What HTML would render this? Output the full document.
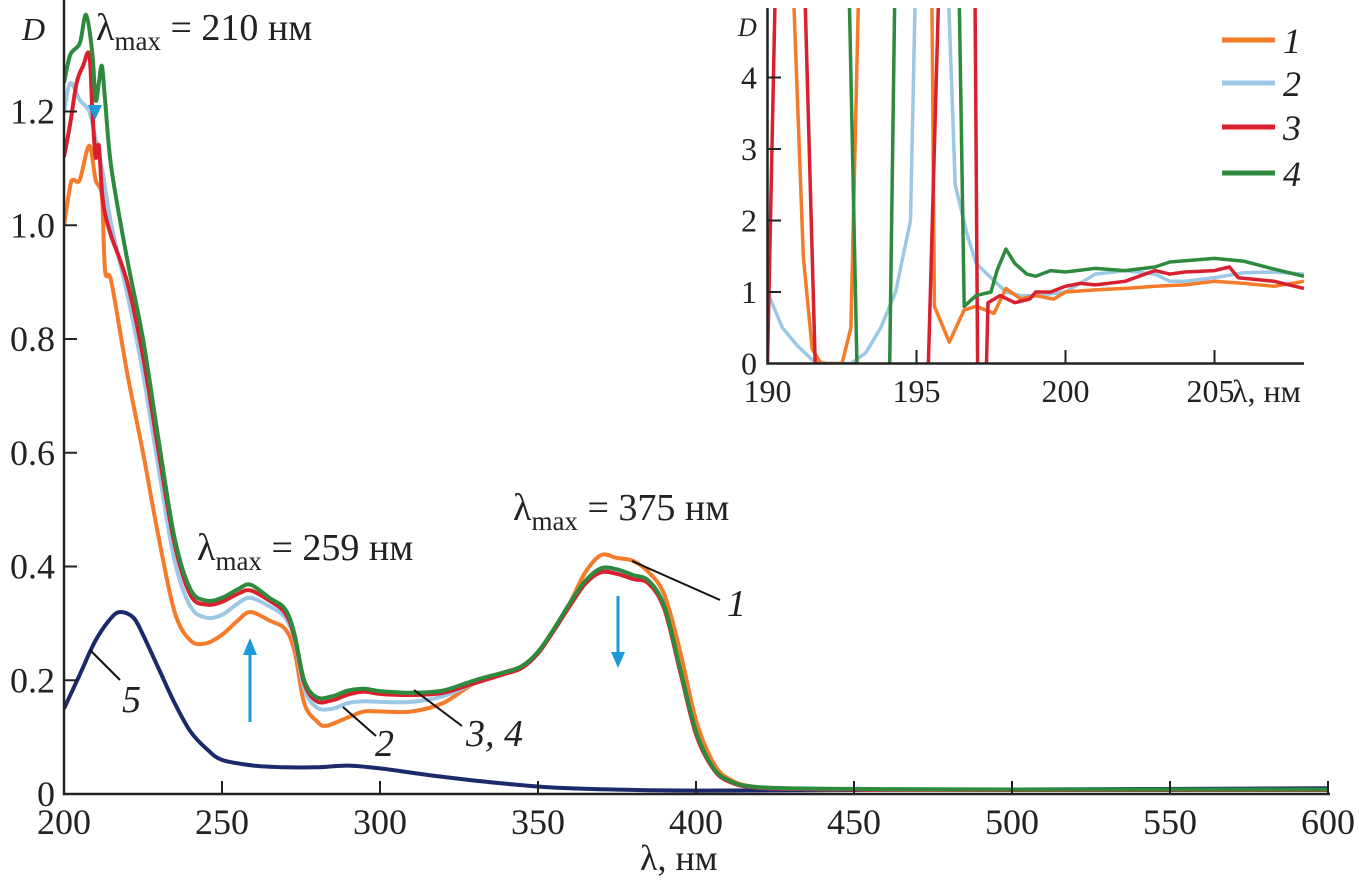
<!DOCTYPE html>
<html><head><meta charset="utf-8"><style>
body{margin:0;background:#fff;}
svg{display:block;}
text,tspan{font-family:"Liberation Serif","DejaVu Serif",serif !important;}
</style></head><body>
<svg id="chart" width="1359" height="884" viewBox="0 0 1359 884" xmlns="http://www.w3.org/2000/svg">
<defs><clipPath id="insetClip"><rect x="768" y="8" width="537" height="356"/></clipPath>
<clipPath id="mainClip"><rect x="64" y="0" width="1266" height="796"/></clipPath></defs>
<g id="main-plot"></g>
<g id="inset-plot"></g>
</svg>
<script>
// ---- main chart data ----
const mainXTicks=[200,250,300,350,400,450,500,550,600];
const mainYTicks=[0,0.2,0.4,0.6,0.8,1.0,1.2];
const mainYTickLabels=["0","0.2","0.4","0.6","0.8","1.0","1.2"];
const wl4=[200,202,205,207,209,210,211,212,213,215,220,225,230,235,240,245,250,255,259,265,270,273,276,280,285,290,295,300,310,320,330,340,345,350,355,360,365,370,375,380,385,390,395,400,405,410,420,450,500,600];
const d4=[1.25,1.3,1.32,1.37,1.3,1.22,1.25,1.28,1.22,1.1,0.94,0.8,0.62,0.45,0.36,0.34,0.345,0.36,0.368,0.345,0.325,0.28,0.2,0.17,0.172,0.182,0.185,0.181,0.178,0.182,0.2,0.215,0.225,0.25,0.29,0.335,0.375,0.397,0.395,0.385,0.375,0.33,0.22,0.11,0.05,0.025,0.012,0.009,0.008,0.008];
const wl3=[200,202,204,206,208,209,210,211,212,213,215,220,225,230,235,240,245,250,255,259,265,270,273,276,280,285,290,295,300,310,320,330,340,345,350,355,360,365,370,375,380,385,390,395,400,405,410,420,450,500,600];
const d3=[1.12,1.18,1.25,1.28,1.3,1.2,1.12,1.14,1.06,1.02,0.98,0.9,0.77,0.6,0.44,0.35,0.333,0.338,0.352,0.358,0.34,0.318,0.275,0.195,0.163,0.165,0.175,0.18,0.176,0.174,0.178,0.195,0.212,0.222,0.247,0.287,0.33,0.37,0.39,0.387,0.378,0.37,0.325,0.215,0.105,0.048,0.023,0.011,0.008,0.007,0.007];
const wl2=[200,202,205,208,210,212,215,220,225,230,235,240,245,250,255,259,265,270,273,276,280,285,290,295,300,310,320,330,340,345,350,355,360,365,370,375,380,385,390,395,400,405,410,420,450,500,600];
const d2=[1.2,1.25,1.22,1.2,1.15,1.1,1.0,0.88,0.74,0.57,0.41,0.33,0.31,0.315,0.335,0.345,0.33,0.31,0.27,0.185,0.152,0.15,0.16,0.163,0.162,0.162,0.172,0.195,0.212,0.222,0.248,0.288,0.332,0.372,0.392,0.39,0.38,0.372,0.327,0.217,0.107,0.049,0.024,0.011,0.008,0.007,0.007];
const wl1=[200,202,203,205,208,210,212,213,215,220,225,230,235,240,245,250,255,259,265,270,273,276,280,283,290,295,300,310,320,330,340,345,350,355,360,365,370,375,380,385,390,395,400,405,410,420,450,500,600];
const d1=[1.0,1.07,1.08,1.08,1.14,1.08,1.05,0.92,0.9,0.74,0.6,0.45,0.32,0.27,0.265,0.28,0.305,0.32,0.305,0.29,0.25,0.16,0.128,0.12,0.135,0.145,0.145,0.145,0.16,0.195,0.215,0.225,0.25,0.29,0.335,0.39,0.42,0.415,0.41,0.39,0.35,0.25,0.13,0.06,0.028,0.012,0.008,0.007,0.007];
const wl5=[200,205,210,215,218,222,225,230,235,240,245,250,260,270,280,290,300,320,340,360,400,450,500,600];
const d5=[0.15,0.21,0.27,0.31,0.32,0.31,0.28,0.22,0.16,0.11,0.08,0.06,0.05,0.047,0.047,0.05,0.045,0.03,0.018,0.01,0.006,0.007,0.008,0.01];
// ---- inset data (null = gap) ----
const insetXTicks=[190,195,200,205];
const insetYTicks=[0,1,2,3,4];
const iwl1=[190.8,191.2,191.5,191.8,192.5,192.8,193.1,null,195.5,195.6,196.1,196.6,197,197.6,198,198.5,199,199.6,200,201,202,203,204,205,206,207,208];
const id1=[6,1.5,0.2,0,0,0.5,6,null,6,0.8,0.3,0.75,0.8,0.7,1.05,0.9,0.95,0.9,1.0,1.03,1.05,1.08,1.1,1.15,1.12,1.08,1.15];
const iwl2=[190,190.5,191,191.5,192,192.8,193.3,193.8,194.3,194.8,195,null,196.0,196.3,196.7,197,197.5,198,198.5,199,200,201,202,203,203.5,204,205,206,207,208];
const id2=[1.0,0.5,0.25,0.05,0,0,0.15,0.5,1.0,2.0,6,null,6,2.5,1.8,1.4,1.2,1.0,0.95,0.95,1.0,1.25,1.3,1.25,1.15,1.15,1.2,1.27,1.28,1.25];
const iwl3=[190,190.3,null,191.2,191.6,null,195.4,195.8,null,196.95,197.05,null,197.35,197.4,197.8,198.3,198.8,199,199.5,200,200.5,201,202,203,203.5,204,205,205.5,205.8,207,208];
const id3=[0,6,null,6,0,null,0,6,null,6,0,null,0,0.85,0.95,0.85,0.9,1.0,1.0,1.08,1.12,1.1,1.15,1.3,1.25,1.28,1.3,1.35,1.2,1.15,1.05];
const iwl4=[192.7,193.0,null,194.1,194.3,null,196.4,196.6,197,197.5,197.7,198,198.3,198.7,199,199.5,200,201,202,203,203.5,205,206,207,208];
const id4=[6,0,null,0,6,null,6,0.8,0.95,1.0,1.3,1.6,1.4,1.25,1.22,1.3,1.28,1.33,1.3,1.35,1.42,1.47,1.43,1.32,1.22];

const NS="http://www.w3.org/2000/svg";
const C={o:"#f47b2a",b:"#9cc8e6",r:"#d9202e",g:"#2e8b3e",n:"#1b2a6b",arrow:"#1a9ad6"};
function mk(tag,attrs,parent){const e=document.createElementNS(NS,tag);for(const k in attrs)e.setAttribute(k,attrs[k]);parent.appendChild(e);return e;}
const mx=v=>64+(v-200)*(1328-64)/400;
const my=v=>794-v*(794-111.5)/1.2;
const ix=v=>767.5+(v-190)*29.8;
const iy=v=>363.5-v*71.5;
const M=document.getElementById('main-plot');
const I=document.getElementById('inset-plot');
function pathD(xs,ys,fx,fy){let d="",pen=false;for(let i=0;i<xs.length;i++){if(xs[i]===null){pen=false;continue;}d+=(pen?"L":"M")+fx(xs[i]).toFixed(1)+","+fy(ys[i]).toFixed(1);pen=true;}return d;}
function smoothD(xs,ys,fx,fy){const p=xs.map((x,i)=>[fx(x),fy(ys[i])]);let d="M"+p[0][0]+","+p[0][1];for(let i=0;i<p.length-1;i++){const p0=p[i-1]||p[i],p1=p[i],p2=p[i+1],p3=p[i+2]||p2;const c1=[p1[0]+(p2[0]-p0[0])/6,p1[1]+(p2[1]-p0[1])/6],c2=[p2[0]-(p3[0]-p1[0])/6,p2[1]-(p3[1]-p1[1])/6];d+="C"+c1.map(v=>v.toFixed(1))+" "+c2.map(v=>v.toFixed(1))+" "+p2[0].toFixed(1)+","+p2[1].toFixed(1);}return d;}
const series=[[wl5,d5,C.n,'curve-5'],[wl1,d1,C.o,'curve-1'],[wl2,d2,C.b,'curve-2'],[wl3,d3,C.r,'curve-3'],[wl4,d4,C.g,'curve-4']];
const mg=mk('g',{'clip-path':'url(#mainClip)'},M);
series.forEach(s=>{const p=mk('path',{d:smoothD(s[0],s[1],mx,my),fill:'none',stroke:s[2],'stroke-width':4,'stroke-linejoin':'round'},mg);

});
const ax=mk('path',{d:`M64,0 L64,794 L1330,794`,fill:'none',stroke:'#222','stroke-width':2.5},M);


mainXTicks.forEach(t=>{mk('line',{x1:mx(t),x2:mx(t),y1:794,y2:781,stroke:'#222','stroke-width':2},M);
const tx=mk('text',{x:mx(t),y:834,'font-size':36,'text-anchor':'middle',fill:'#222'},M);tx.textContent=t;

});
mainYTicks.forEach((t,i)=>{if(t>0)mk('line',{x1:64,x2:77,y1:my(t),y2:my(t),stroke:'#222','stroke-width':2},M);
const tx=mk('text',{x:55,y:my(t)+12,'font-size':36,'text-anchor':'end',fill:'#222'},M);tx.textContent=mainYTickLabels[i];

});
const ig=mk('g',{'clip-path':'url(#insetClip)'},I);
[[iwl2,id2,C.b,'inset-curve-2'],[iwl1,id1,C.o,'inset-curve-1'],[iwl3,id3,C.r,'inset-curve-3'],[iwl4,id4,C.g,'inset-curve-4']].forEach(s=>{const p=mk('path',{d:pathD(s[0],s[1],ix,iy),fill:'none',stroke:s[2],'stroke-width':3.5,'stroke-linejoin':'round'},ig);

});
const iax=mk('path',{d:`M767.5,8 L767.5,363.5 L1304,363.5`,fill:'none',stroke:'#222','stroke-width':2.5},I);


insetXTicks.forEach(t=>{mk('line',{x1:ix(t),x2:ix(t),y1:363.5,y2:350,stroke:'#222','stroke-width':2},I);
const tx=mk('text',{x:ix(t)+(t===205?-4:0),y:402,'font-size':32,'text-anchor':'middle',fill:'#222'},I);tx.textContent=t;

});
insetYTicks.forEach(t=>{if(t>0)mk('line',{x1:767.5,x2:781,y1:iy(t),y2:iy(t),stroke:'#222','stroke-width':2},I);
const tx=mk('text',{x:757,y:iy(t)+11,'font-size':32,'text-anchor':'end',fill:'#222'},I);tx.textContent=t;

});
</script>
<svg width="1359" height="884" style="position:absolute;left:0;top:0">
<text x="22" y="40" font-size="32" font-style="italic" fill="#222">D</text>
<text x="738" y="36" font-size="26" font-style="italic" fill="#222">D</text>
<text x="1232" y="402" font-size="32" fill="#222">λ, нм</text>
<text x="640" y="870" font-size="36" fill="#222">λ, нм</text>
<text x="96" y="40" font-size="38" fill="#222">λ<tspan font-size="27" dy="10">max</tspan><tspan dy="-10"> = 210 нм</tspan></text>
<text x="197" y="560" font-size="38" fill="#222">λ<tspan font-size="27" dy="10">max</tspan><tspan dy="-10"> = 259 нм</tspan></text>
<text x="513" y="520" font-size="38" fill="#222">λ<tspan font-size="27" dy="10">max</tspan><tspan dy="-10"> = 375 нм</tspan></text>
<g stroke="#1a9ad6" stroke-width="3" fill="#1a9ad6">
<line x1="250" y1="722" x2="250" y2="650"/><polygon points="243,655 257,655 250,638" stroke="none"/>
<line x1="618" y1="596" x2="618" y2="655"/><polygon points="611,652 625,652 618,668" stroke="none"/>
<polygon points="88,105 102,105 95,120" stroke="none"/>
</g>
<g stroke="#111" stroke-width="2">
<line x1="90" y1="650" x2="120" y2="680"/>
<line x1="343" y1="707" x2="376" y2="736"/>
<line x1="414" y1="690" x2="462" y2="726"/>
<line x1="632" y1="561" x2="720" y2="600"/>
</g>
<g font-size="38" font-style="italic" fill="#222">
<text x="122" y="712">5</text>
<text x="375" y="756">2</text>
<text x="466" y="746">3, 4</text>
<text x="727" y="616">1</text>
</g>
<g stroke-width="5">
<line x1="1222" y1="40" x2="1275" y2="40" stroke="#f47b2a"/>
<line x1="1222" y1="83" x2="1275" y2="83" stroke="#9cc8e6"/>
<line x1="1222" y1="127" x2="1275" y2="127" stroke="#d9202e"/>
<line x1="1222" y1="173" x2="1275" y2="173" stroke="#2e8b3e"/>
<g font-size="36" font-style="italic" fill="#222" stroke="none">
<text x="1283" y="53">1</text><text x="1283" y="96">2</text><text x="1283" y="140">3</text><text x="1283" y="186">4</text>
</g></g>
</svg>
</body></html>
